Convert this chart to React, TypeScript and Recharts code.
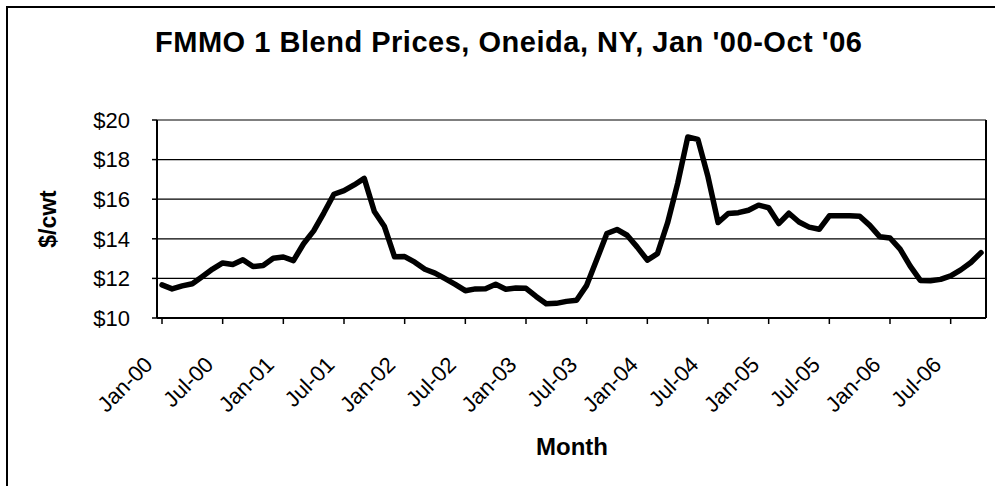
import React from 'react';
import { LineChart, Line, XAxis, YAxis, CartesianGrid } from 'recharts';

// Jan 2000 .. Oct 2006, one value per month ($/cwt)
const MONTH_NAMES = ['Jan', 'Feb', 'Mar', 'Apr', 'May', 'Jun', 'Jul', 'Aug', 'Sep', 'Oct', 'Nov', 'Dec'];
const YEARS = ['00', '01', '02', '03', '04', '05', '06'];

const PRICES = [
  11.67, 11.47, 11.62, 11.73, 12.1, 12.47, 12.78, 12.7, 12.94, 12.6, 12.65, 13.02,
  13.08, 12.9, 13.75, 14.4, 15.3, 16.25, 16.43, 16.72, 17.05, 15.38, 14.62, 13.09,
  13.1, 12.82, 12.46, 12.27, 11.99, 11.7, 11.38, 11.47, 11.48, 11.7, 11.45, 11.52,
  11.5, 11.09, 10.72, 10.74, 10.84, 10.9, 11.65, 12.95, 14.27, 14.47, 14.18, 13.58,
  12.92, 13.25, 14.8, 16.8, 19.14, 19.02, 17.13, 14.82, 15.28, 15.32, 15.44, 15.7,
  15.57, 14.77, 15.29, 14.85, 14.59, 14.48, 15.16, 15.16, 15.17, 15.14, 14.68, 14.1,
  14.04, 13.48, 12.62, 11.9, 11.88, 11.95, 12.13, 12.43, 12.8, 13.3,
];

const Y_TICKS = [10, 12, 14, 16, 18, 20];

const months = YEARS.flatMap((yr) => MONTH_NAMES.map((m) => `${m}-${yr}`)).slice(0, PRICES.length);
const data = months.map((month, i) => ({ month, price: PRICES[i] }));

const FONT = '"Liberation Sans", Arial, sans-serif';

const XTick = (props: any) => {
  const { x, y, payload } = props;
  const ax = x - 8;
  const ay = y + 40;
  return (
    <text
      x={ax}
      y={ay}
      transform={`rotate(-45, ${ax}, ${ay})`}
      textAnchor="end"
      fontSize={22}
      fontFamily={FONT}
      fill="#000"
    >
      {payload.value}
    </text>
  );
};

export default function App() {
  return (
    <div style={{ position: 'absolute', left: 0, top: 0, width: 995, height: 486, overflow: 'hidden', background: '#fff' }}>
      <div
        style={{
          position: 'absolute',
          left: 6,
          top: 6,
          width: 1100,
          height: 600,
          border: '2px solid #000',
        }}
      />
      <div style={{ position: 'absolute', left: 0, top: 0 }}>
        <LineChart width={995} height={486} data={data} margin={{ top: 120, right: 0, bottom: 0, left: 0 }}>
          <CartesianGrid yAxisId="left" horizontal vertical={false} stroke="#000" strokeWidth={1.2} />
          <XAxis
            dataKey="month"
            interval={5}
            height={168}
            padding={{ left: 5, right: 5 }}
            tickSize={6}
            tick={<XTick />}
            axisLine={{ stroke: '#000', strokeWidth: 2 }}
            tickLine={{ stroke: '#000', strokeWidth: 1.5 }}
          />
          <YAxis
            yAxisId="left"
            width={157}
            domain={[10, 20]}
            ticks={Y_TICKS}
            tickFormatter={(v: number) => `$${v}`}
            tickSize={5}
            tickMargin={22}
            tick={{ fill: '#000', fontSize: 22, fontFamily: FONT }}
            axisLine={{ stroke: '#000', strokeWidth: 2 }}
            tickLine={{ stroke: '#000', strokeWidth: 1.5 }}
          />
          <YAxis
            yAxisId="right"
            orientation="right"
            width={9}
            domain={[10, 20]}
            ticks={Y_TICKS}
            tick={false}
            tickLine={false}
            axisLine={{ stroke: '#000', strokeWidth: 2 }}
          />
          <Line
            yAxisId="left"
            type="linear"
            dataKey="price"
            stroke="#000"
            strokeWidth={5.5}
            strokeLinejoin="round"
            strokeLinecap="round"
            dot={false}
            isAnimationActive={false}
          />
        </LineChart>
      </div>
      <svg width={995} height={486} style={{ position: 'absolute', left: 0, top: 0, pointerEvents: 'none' }}>
        <text x={155} y={52} fontSize={29} fontWeight="bold" fontFamily={FONT} textLength={707} lengthAdjust="spacing" fill="#000">
          FMMO 1 Blend Prices, Oneida, NY, Jan '00-Oct '06
        </text>
        <text x={572} y={455} fontSize={24} fontWeight="bold" fontFamily={FONT} textAnchor="middle" fill="#000">
          Month
        </text>
        <text
          x={56}
          y={219}
          fontSize={23}
          fontWeight="bold"
          fontFamily={FONT}
          textAnchor="middle"
          transform="rotate(-90, 56, 219)"
          fill="#000"
        >
          $/cwt
        </text>
      </svg>
    </div>
  );
}
